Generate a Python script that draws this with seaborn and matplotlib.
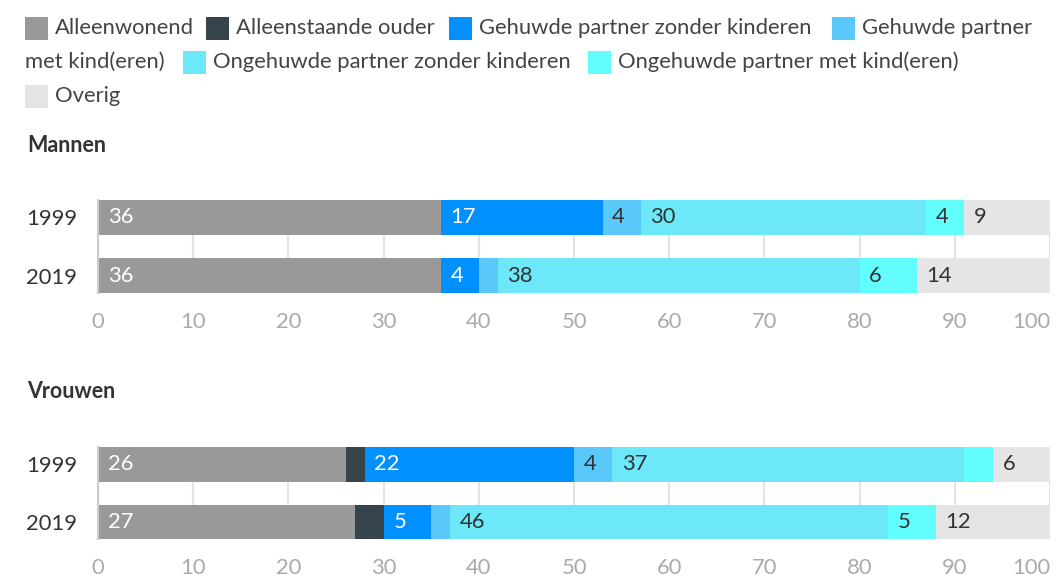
import numpy as np
import pandas as pd
import seaborn as sns
import matplotlib.pyplot as plt
from matplotlib.patches import Rectangle

# categories (stack order) and colours
categories = ['Alleenwonend', 'Alleenstaande ouder', 'Gehuwde partner zonder kinderen',
              'Gehuwde partner met kind(eren)', 'Ongehuwde partner zonder kinderen',
              'Ongehuwde partner met kind(eren)', 'Overig']
colors = ['#999999', '#36444c', '#0090ff', '#5bc8fa', '#6ce8f8', '#62fdfd', '#e5e5e5']
label_colors = ['white', 'white', 'white', '#333333', '#333333', '#333333', '#333333']

years = ['1999', '2019']

# percentages per category, [1999, 2019]
mannen = {
    'Alleenwonend': [36, 36],
    'Alleenstaande ouder': [0, 0],
    'Gehuwde partner zonder kinderen': [17, 4],
    'Gehuwde partner met kind(eren)': [4, 2],
    'Ongehuwde partner zonder kinderen': [30, 38],
    'Ongehuwde partner met kind(eren)': [4, 6],
    'Overig': [9, 14],
}
vrouwen = {
    'Alleenwonend': [26, 27],
    'Alleenstaande ouder': [2, 3],
    'Gehuwde partner zonder kinderen': [22, 5],
    'Gehuwde partner met kind(eren)': [4, 2],
    'Ongehuwde partner zonder kinderen': [37, 46],
    'Ongehuwde partner met kind(eren)': [3, 5],
    'Overig': [6, 12],
}

sns.set_style('white')
plt.rcParams['font.family'] = ['Lato', 'DejaVu Sans']

W, H = 1059, 578
FS = 15.8
fig = plt.figure(figsize=(W / 100, H / 100), dpi=100)


def stacked(ax, data):
    df = pd.DataFrame(data, index=years)[categories]
    cum = df.cumsum(axis=1)
    # draw cumulative totals from the largest down so each segment shows
    for cat, col in reversed(list(zip(categories, colors))):
        sns.barplot(x=cum[cat].values, y=years, orient='h', color=col,
                    saturation=1, width=0.6, linewidth=0, ax=ax, zorder=2)
    for i, yr in enumerate(years):
        for cat, lc in zip(categories, label_colors):
            v = df.loc[yr, cat]
            if v >= 4:
                left = cum.loc[yr, cat] - v
                ax.annotate(str(v), (left, i), xytext=(7, 0), textcoords='offset points',
                            ha='left', va='center', color=lc, fontsize=FS, zorder=3)
    ax.set_xlim(0, 100)
    ax.set_ylim(1.3, -0.3)
    ax.set_xticks(np.arange(0, 101, 10))
    ax.grid(axis='x', color='#e3e3e3', linewidth=1.5, zorder=0)
    ax.set_axisbelow(True)
    ax.tick_params(axis='x', length=0, pad=14, labelsize=FS, labelcolor='#aaaaaa')
    ax.tick_params(axis='y', length=0, pad=15, labelsize=FS, labelcolor='#333333')
    ax.get_xticklabels()[-1].set_horizontalalignment('right')
    ax.set_xlabel('')
    ax.set_ylabel('')
    for s in ['top', 'right', 'bottom']:
        ax.spines[s].set_visible(False)
    ax.spines['left'].set_color('#cccccc')
    ax.spines['left'].set_linewidth(1.5)


def box(x0, y0, x1, y1):
    return [x0 / W, 1 - y1 / H, (x1 - x0) / W, (y1 - y0) / H]


ax1 = fig.add_axes(box(98, 200, 1050, 293))
stacked(ax1, mannen)
ax2 = fig.add_axes(box(98, 447, 1050, 539))
stacked(ax2, vrouwen)

fig.text(27 / W, 1 - 145 / H, 'Mannen', fontsize=15.5, fontweight='bold',
         color='#333333', va='center', ha='left')
fig.text(27 / W, 1 - 391 / H, 'Vrouwen', fontsize=15.5, fontweight='bold',
         color='#333333', va='center', ha='left')

# legend laid out as flowing text, like the original
legend_items = [
    (25, 28, 0, 'Alleenwonend'),
    (206, 28, 1, 'Alleenstaande ouder'),
    (449, 28, 2, 'Gehuwde partner zonder kinderen'),
    (832, 28, 3, 'Gehuwde partner'),
    (183, 62, 4, 'Ongehuwde partner zonder kinderen'),
    (588, 62, 5, 'Ongehuwde partner met kind(eren)'),
    (25, 96, 6, 'Overig'),
]
for x, y, ci, txt in legend_items:
    fig.add_artist(Rectangle((x / W, 1 - (y + 12) / H), 23 / W, 23 / H,
                             transform=fig.transFigure, color=colors[ci], lw=0))
    fig.text((x + 30) / W, 1 - y / H, txt, fontsize=FS, color='#444444',
             va='center', ha='left')
fig.text(25 / W, 1 - 62 / H, 'met kind(eren)', fontsize=FS, color='#444444',
         va='center', ha='left')

plt.savefig('out.png', dpi=100)
